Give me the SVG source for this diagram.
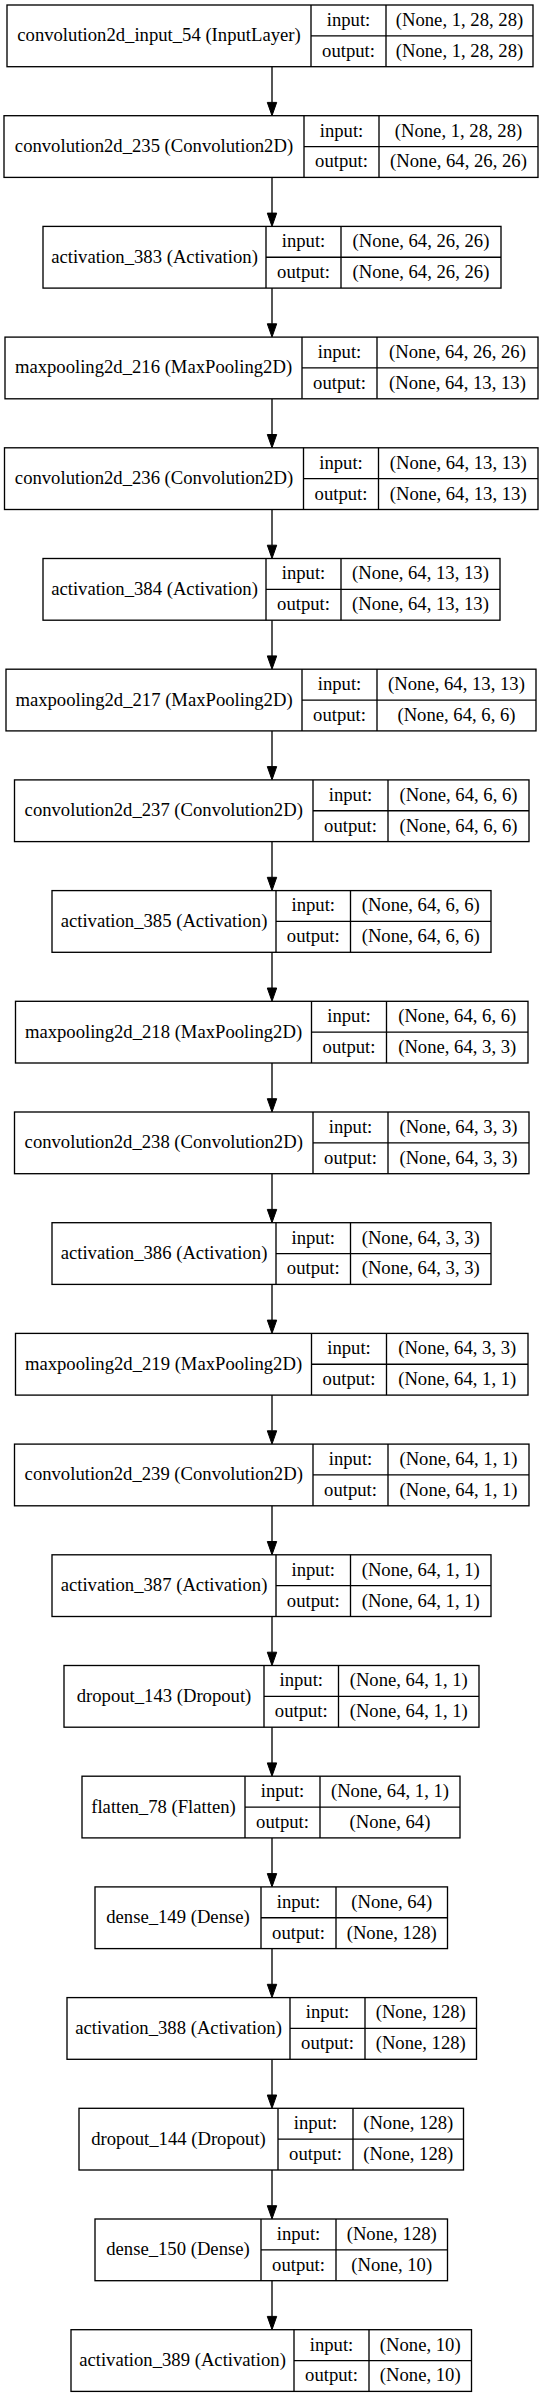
<svg xmlns="http://www.w3.org/2000/svg" width="541" height="2397" viewBox="0 0 541 2397">
<style>
.b{fill:#fff;stroke:#000;stroke-width:1.33}
.l{fill:none;stroke:#000;stroke-width:1.33}
.e{fill:none;stroke:#000;stroke-width:1.33;marker-end:url(#ah)}
text{font-family:'Liberation Serif','Times New Roman',serif;font-size:18.67px;text-anchor:middle;fill:#000}
</style>
<defs>
<marker id="ah" markerUnits="userSpaceOnUse" markerWidth="14" markerHeight="10" refX="0" refY="4.7" orient="auto" overflow="visible">
<path d="M0,0 L13.3,4.7 L0,9.4 Z" fill="#000" stroke="#000" stroke-width="1"/>
</marker>
</defs>
<rect x="0" y="0" width="541" height="2397" fill="#fff"/>
<g id="edges">
<line class="e" x1="272" y1="66.7" x2="272" y2="102.4"/>
<line class="e" x1="272" y1="177.4" x2="272" y2="213.1"/>
<line class="e" x1="272" y1="288.1" x2="272" y2="323.8"/>
<line class="e" x1="272" y1="398.8" x2="272" y2="434.5"/>
<line class="e" x1="272" y1="509.5" x2="272" y2="545.2"/>
<line class="e" x1="272" y1="620.2" x2="272" y2="655.9"/>
<line class="e" x1="272" y1="730.9" x2="272" y2="766.6"/>
<line class="e" x1="272" y1="841.6" x2="272" y2="877.3"/>
<line class="e" x1="272" y1="952.3" x2="272" y2="988"/>
<line class="e" x1="272" y1="1063" x2="272" y2="1098.7"/>
<line class="e" x1="272" y1="1173.7" x2="272" y2="1209.4"/>
<line class="e" x1="272" y1="1284.4" x2="272" y2="1320.1"/>
<line class="e" x1="272" y1="1395.1" x2="272" y2="1430.8"/>
<line class="e" x1="272" y1="1505.8" x2="272" y2="1541.5"/>
<line class="e" x1="272" y1="1616.5" x2="272" y2="1652.2"/>
<line class="e" x1="272" y1="1727.2" x2="272" y2="1762.9"/>
<line class="e" x1="272" y1="1837.9" x2="272" y2="1873.6"/>
<line class="e" x1="272" y1="1948.6" x2="272" y2="1984.3"/>
<line class="e" x1="272" y1="2059.3" x2="272" y2="2095"/>
<line class="e" x1="272" y1="2170" x2="272" y2="2205.7"/>
<line class="e" x1="272" y1="2280.7" x2="272" y2="2316.4"/>
</g>
<g id="n1" transform="translate(0,5)">
<rect class="b" x="7" y="0" width="526" height="61.7"/>
<path class="l" d="M311,0V61.7M386,0V61.7M311,30.85H533"/>
<text x="159" y="36.4">convolution2d_input_54 (InputLayer)</text>
<text x="348.5" y="20.9">input:</text><text x="348.5" y="51.8">output:</text>
<text x="459.5" y="20.9">(None, 1, 28, 28)</text><text x="459.5" y="51.8">(None, 1, 28, 28)</text>
</g>
<g id="n2" transform="translate(0,115.7)">
<rect class="b" x="4" y="0" width="534" height="61.7"/>
<path class="l" d="M304,0V61.7M379,0V61.7M304,30.85H538"/>
<text x="154" y="36.4">convolution2d_235 (Convolution2D)</text>
<text x="341.5" y="20.9">input:</text><text x="341.5" y="51.8">output:</text>
<text x="458.5" y="20.9">(None, 1, 28, 28)</text><text x="458.5" y="51.8">(None, 64, 26, 26)</text>
</g>
<g id="n3" transform="translate(0,226.4)">
<rect class="b" x="43" y="0" width="458" height="61.7"/>
<path class="l" d="M266,0V61.7M341,0V61.7M266,30.85H501"/>
<text x="154.5" y="36.4">activation_383 (Activation)</text>
<text x="303.5" y="20.9">input:</text><text x="303.5" y="51.8">output:</text>
<text x="421" y="20.9">(None, 64, 26, 26)</text><text x="421" y="51.8">(None, 64, 26, 26)</text>
</g>
<g id="n4" transform="translate(0,337.1)">
<rect class="b" x="5" y="0" width="533" height="61.7"/>
<path class="l" d="M302,0V61.7M377,0V61.7M302,30.85H538"/>
<text x="153.5" y="36.4">maxpooling2d_216 (MaxPooling2D)</text>
<text x="339.5" y="20.9">input:</text><text x="339.5" y="51.8">output:</text>
<text x="457.5" y="20.9">(None, 64, 26, 26)</text><text x="457.5" y="51.8">(None, 64, 13, 13)</text>
</g>
<g id="n5" transform="translate(0,447.8)">
<rect class="b" x="4.5" y="0" width="533.5" height="61.7"/>
<path class="l" d="M303.5,0V61.7M378.5,0V61.7M303.5,30.85H538"/>
<text x="154" y="36.4">convolution2d_236 (Convolution2D)</text>
<text x="341" y="20.9">input:</text><text x="341" y="51.8">output:</text>
<text x="458.25" y="20.9">(None, 64, 13, 13)</text><text x="458.25" y="51.8">(None, 64, 13, 13)</text>
</g>
<g id="n6" transform="translate(0,558.5)">
<rect class="b" x="43" y="0" width="457" height="61.7"/>
<path class="l" d="M266,0V61.7M341,0V61.7M266,30.85H500"/>
<text x="154.5" y="36.4">activation_384 (Activation)</text>
<text x="303.5" y="20.9">input:</text><text x="303.5" y="51.8">output:</text>
<text x="420.5" y="20.9">(None, 64, 13, 13)</text><text x="420.5" y="51.8">(None, 64, 13, 13)</text>
</g>
<g id="n7" transform="translate(0,669.2)">
<rect class="b" x="6" y="0" width="530" height="61.7"/>
<path class="l" d="M302,0V61.7M377,0V61.7M302,30.85H536"/>
<text x="154" y="36.4">maxpooling2d_217 (MaxPooling2D)</text>
<text x="339.5" y="20.9">input:</text><text x="339.5" y="51.8">output:</text>
<text x="456.5" y="20.9">(None, 64, 13, 13)</text><text x="456.5" y="51.8">(None, 64, 6, 6)</text>
</g>
<g id="n8" transform="translate(0,779.9)">
<rect class="b" x="14.5" y="0" width="514.5" height="61.7"/>
<path class="l" d="M313,0V61.7M388,0V61.7M313,30.85H529"/>
<text x="163.75" y="36.4">convolution2d_237 (Convolution2D)</text>
<text x="350.5" y="20.9">input:</text><text x="350.5" y="51.8">output:</text>
<text x="458.5" y="20.9">(None, 64, 6, 6)</text><text x="458.5" y="51.8">(None, 64, 6, 6)</text>
</g>
<g id="n9" transform="translate(0,890.6)">
<rect class="b" x="52" y="0" width="439" height="61.7"/>
<path class="l" d="M276,0V61.7M350.5,0V61.7M276,30.85H491"/>
<text x="164" y="36.4">activation_385 (Activation)</text>
<text x="313.25" y="20.9">input:</text><text x="313.25" y="51.8">output:</text>
<text x="420.75" y="20.9">(None, 64, 6, 6)</text><text x="420.75" y="51.8">(None, 64, 6, 6)</text>
</g>
<g id="n10" transform="translate(0,1001.3)">
<rect class="b" x="15.5" y="0" width="512.5" height="61.7"/>
<path class="l" d="M311.5,0V61.7M386.5,0V61.7M311.5,30.85H528"/>
<text x="163.5" y="36.4">maxpooling2d_218 (MaxPooling2D)</text>
<text x="349" y="20.9">input:</text><text x="349" y="51.8">output:</text>
<text x="457.25" y="20.9">(None, 64, 6, 6)</text><text x="457.25" y="51.8">(None, 64, 3, 3)</text>
</g>
<g id="n11" transform="translate(0,1112)">
<rect class="b" x="14.5" y="0" width="514.5" height="61.7"/>
<path class="l" d="M313,0V61.7M388,0V61.7M313,30.85H529"/>
<text x="163.75" y="36.4">convolution2d_238 (Convolution2D)</text>
<text x="350.5" y="20.9">input:</text><text x="350.5" y="51.8">output:</text>
<text x="458.5" y="20.9">(None, 64, 3, 3)</text><text x="458.5" y="51.8">(None, 64, 3, 3)</text>
</g>
<g id="n12" transform="translate(0,1222.7)">
<rect class="b" x="52" y="0" width="439" height="61.7"/>
<path class="l" d="M276,0V61.7M350.5,0V61.7M276,30.85H491"/>
<text x="164" y="36.4">activation_386 (Activation)</text>
<text x="313.25" y="20.9">input:</text><text x="313.25" y="51.8">output:</text>
<text x="420.75" y="20.9">(None, 64, 3, 3)</text><text x="420.75" y="51.8">(None, 64, 3, 3)</text>
</g>
<g id="n13" transform="translate(0,1333.4)">
<rect class="b" x="15.5" y="0" width="512.5" height="61.7"/>
<path class="l" d="M311.5,0V61.7M386.5,0V61.7M311.5,30.85H528"/>
<text x="163.5" y="36.4">maxpooling2d_219 (MaxPooling2D)</text>
<text x="349" y="20.9">input:</text><text x="349" y="51.8">output:</text>
<text x="457.25" y="20.9">(None, 64, 3, 3)</text><text x="457.25" y="51.8">(None, 64, 1, 1)</text>
</g>
<g id="n14" transform="translate(0,1444.1)">
<rect class="b" x="14.5" y="0" width="514.5" height="61.7"/>
<path class="l" d="M313,0V61.7M388,0V61.7M313,30.85H529"/>
<text x="163.75" y="36.4">convolution2d_239 (Convolution2D)</text>
<text x="350.5" y="20.9">input:</text><text x="350.5" y="51.8">output:</text>
<text x="458.5" y="20.9">(None, 64, 1, 1)</text><text x="458.5" y="51.8">(None, 64, 1, 1)</text>
</g>
<g id="n15" transform="translate(0,1554.8)">
<rect class="b" x="52" y="0" width="439" height="61.7"/>
<path class="l" d="M276,0V61.7M350.5,0V61.7M276,30.85H491"/>
<text x="164" y="36.4">activation_387 (Activation)</text>
<text x="313.25" y="20.9">input:</text><text x="313.25" y="51.8">output:</text>
<text x="420.75" y="20.9">(None, 64, 1, 1)</text><text x="420.75" y="51.8">(None, 64, 1, 1)</text>
</g>
<g id="n16" transform="translate(0,1665.5)">
<rect class="b" x="64" y="0" width="415" height="61.7"/>
<path class="l" d="M264,0V61.7M338.5,0V61.7M264,30.85H479"/>
<text x="164" y="36.4">dropout_143 (Dropout)</text>
<text x="301.25" y="20.9">input:</text><text x="301.25" y="51.8">output:</text>
<text x="408.75" y="20.9">(None, 64, 1, 1)</text><text x="408.75" y="51.8">(None, 64, 1, 1)</text>
</g>
<g id="n17" transform="translate(0,1776.2)">
<rect class="b" x="82" y="0" width="378" height="61.7"/>
<path class="l" d="M245,0V61.7M320,0V61.7M245,30.85H460"/>
<text x="163.5" y="36.4">flatten_78 (Flatten)</text>
<text x="282.5" y="20.9">input:</text><text x="282.5" y="51.8">output:</text>
<text x="390" y="20.9">(None, 64, 1, 1)</text><text x="390" y="51.8">(None, 64)</text>
</g>
<g id="n18" transform="translate(0,1886.9)">
<rect class="b" x="95" y="0" width="352.5" height="61.7"/>
<path class="l" d="M261,0V61.7M336,0V61.7M261,30.85H447.5"/>
<text x="178" y="36.4">dense_149 (Dense)</text>
<text x="298.5" y="20.9">input:</text><text x="298.5" y="51.8">output:</text>
<text x="391.75" y="20.9">(None, 64)</text><text x="391.75" y="51.8">(None, 128)</text>
</g>
<g id="n19" transform="translate(0,1997.6)">
<rect class="b" x="67" y="0" width="409.5" height="61.7"/>
<path class="l" d="M290,0V61.7M365,0V61.7M290,30.85H476.5"/>
<text x="178.5" y="36.4">activation_388 (Activation)</text>
<text x="327.5" y="20.9">input:</text><text x="327.5" y="51.8">output:</text>
<text x="420.75" y="20.9">(None, 128)</text><text x="420.75" y="51.8">(None, 128)</text>
</g>
<g id="n20" transform="translate(0,2108.3)">
<rect class="b" x="79" y="0" width="384.5" height="61.7"/>
<path class="l" d="M278,0V61.7M353,0V61.7M278,30.85H463.5"/>
<text x="178.5" y="36.4">dropout_144 (Dropout)</text>
<text x="315.5" y="20.9">input:</text><text x="315.5" y="51.8">output:</text>
<text x="408.25" y="20.9">(None, 128)</text><text x="408.25" y="51.8">(None, 128)</text>
</g>
<g id="n21" transform="translate(0,2219)">
<rect class="b" x="95" y="0" width="352.5" height="61.7"/>
<path class="l" d="M261,0V61.7M336,0V61.7M261,30.85H447.5"/>
<text x="178" y="36.4">dense_150 (Dense)</text>
<text x="298.5" y="20.9">input:</text><text x="298.5" y="51.8">output:</text>
<text x="391.75" y="20.9">(None, 128)</text><text x="391.75" y="51.8">(None, 10)</text>
</g>
<g id="n22" transform="translate(0,2329.7)">
<rect class="b" x="71" y="0" width="400.5" height="61.7"/>
<path class="l" d="M294,0V61.7M369,0V61.7M294,30.85H471.5"/>
<text x="182.5" y="36.4">activation_389 (Activation)</text>
<text x="331.5" y="20.9">input:</text><text x="331.5" y="51.8">output:</text>
<text x="420.25" y="20.9">(None, 10)</text><text x="420.25" y="51.8">(None, 10)</text>
</g>
</svg>
